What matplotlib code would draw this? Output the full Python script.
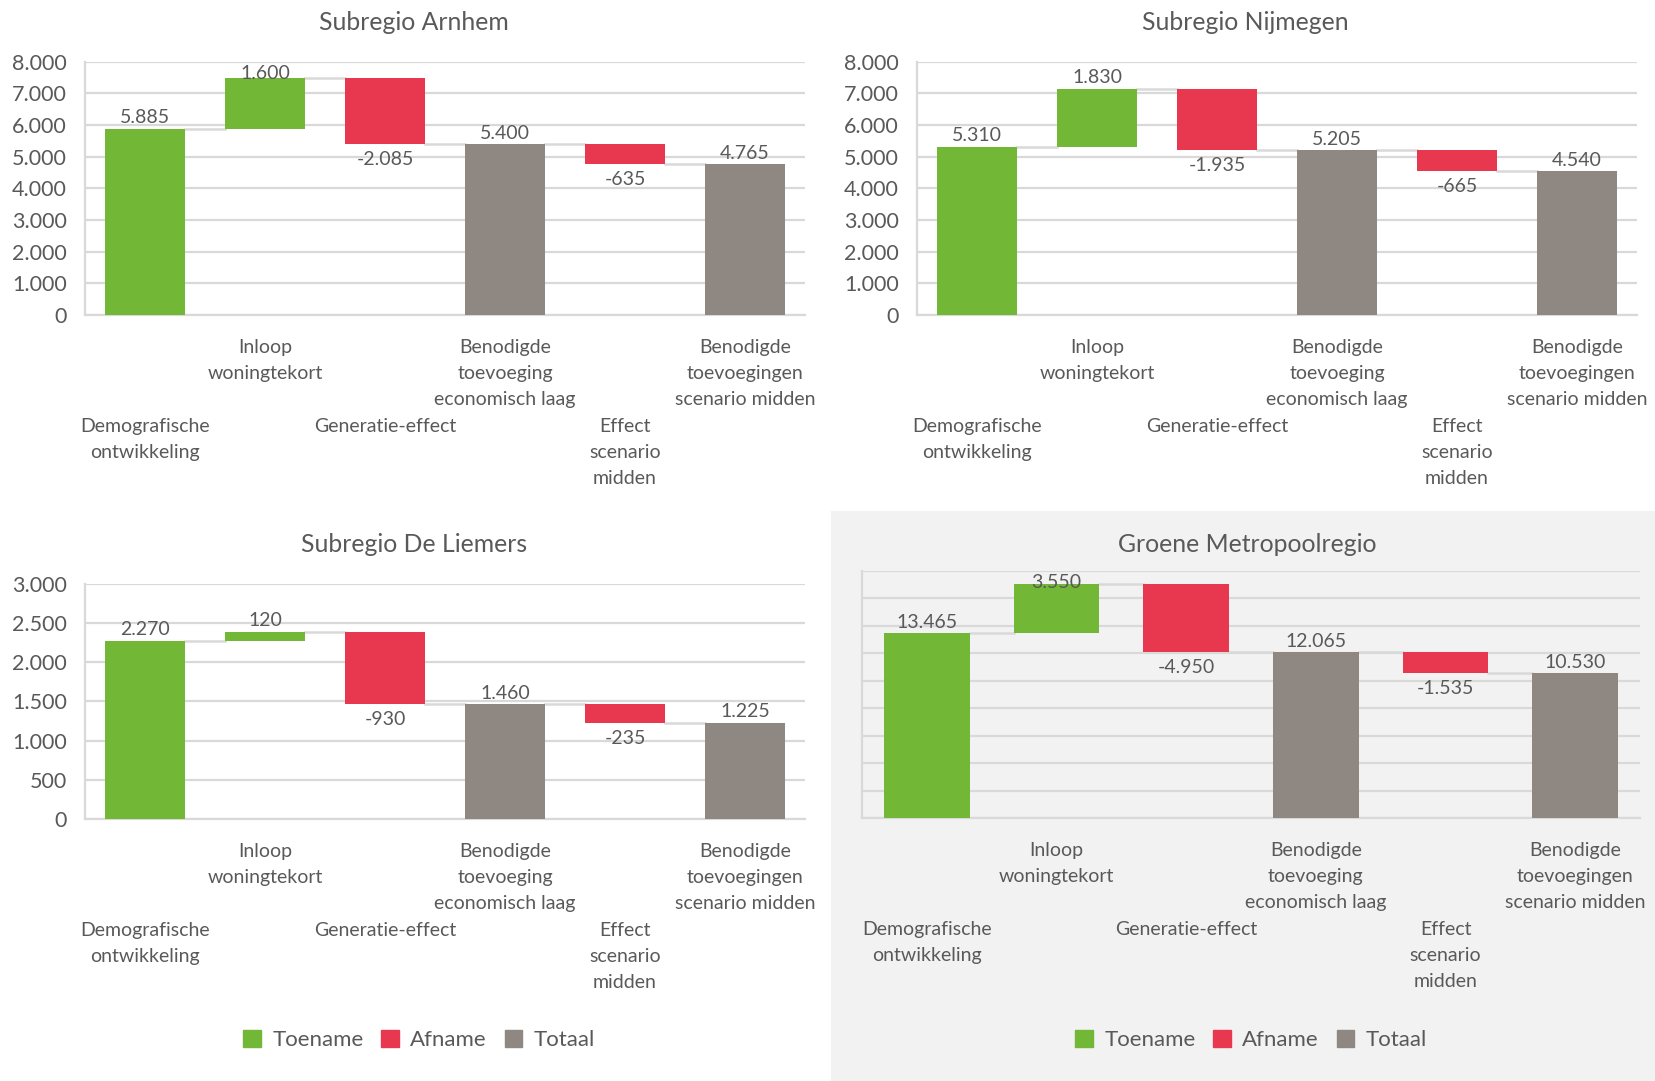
import matplotlib.pyplot as plt
from matplotlib.patches import Patch

plt.rcParams['font.family'] = ['Lato', 'DejaVu Sans']

# Categories (shared by all four panels)
categories = ['Demografische\nontwikkeling', 'Inloop\nwoningtekort', 'Generatie-effect',
              'Benodigde\ntoevoeging\neconomisch laag', 'Effect\nscenario\nmidden',
              'Benodigde\ntoevoegingen\nscenario midden']
is_total = [False, False, False, True, False, True]

# Values per region
arnhem = [5885, 1600, -2085, 5400, -635, 4765]
nijmegen = [5310, 1830, -1935, 5205, -665, 4540]
liemers = [2270, 120, -930, 1460, -235, 1225]
groene = [13465, 3550, -4950, 12065, -1535, 10530]

titles = ['Subregio Arnhem', 'Subregio Nijmegen', 'Subregio De Liemers', 'Groene Metropoolregio']
y_max = [8000, 8000, 3000, 18000]
y_step = [1000, 1000, 500, 2000]

GREEN = '#72B736'
RED = '#E8384F'
GREY = '#8F8782'
TEXT = '#595959'
GRID = '#D9D9D9'

W, H = 1655, 1081
fig = plt.figure(figsize=(W / 100, H / 100), dpi=100)

# grey background behind the last panel
fig.patches.append(plt.Rectangle((831 / W, 0), 1 - 831 / W, 1 - 511 / H,
                                 transform=fig.transFigure, facecolor='#F2F2F2',
                                 edgecolor='none', zorder=-5))

def rect(left, right, top, bottom):
    return [left / W, 1 - bottom / H, (right - left) / W, (bottom - top) / H]

rects = [rect(85, 805, 61.7, 315), rect(917, 1637, 61.7, 315),
         rect(85, 805, 583.7, 819), rect(862, 1640, 570.7, 818)]
title_pos = [(414, 22), (1245, 22), (414, 544), (1247, 544)]


def fmt(v):
    s = f'{abs(v):,}'.replace(',', '.')
    return '-' + s if v < 0 else s


def waterfall(ax, values, ymax, step, show_yticks, r):
    width = 0.66
    level = 0
    bottoms, heights, colors, levels = [], [], [], []
    for v, tot in zip(values, is_total):
        if tot:
            bottoms.append(0); heights.append(v); colors.append(GREY); level = v
        elif v >= 0:
            bottoms.append(level); heights.append(v); colors.append(GREEN); level += v
        else:
            bottoms.append(level + v); heights.append(-v); colors.append(RED); level += v
        levels.append(level)

    x = list(range(len(values)))
    ax.bar(x, heights, bottom=bottoms, width=width, color=colors, zorder=3)

    # connector lines
    for i in range(len(values) - 1):
        ax.plot([i + width / 2, i + 1 - width / 2], [levels[i], levels[i]],
                color=GRID, lw=1.8, zorder=2)

    # data labels
    d_per_px = ymax / (r[3] * H)
    for i, v in enumerate(values):
        if v >= 0:
            y = min(bottoms[i] + heights[i] + 11 * d_per_px, ymax - 12 * d_per_px)
        else:
            y = bottoms[i] - 15.5 * d_per_px
        ax.text(i, y, fmt(v), ha='center', va='center', fontsize=14, color=TEXT, zorder=4)

    ax.set_xlim(-0.5, len(values) - 0.5)
    ax.set_ylim(0, ymax)
    ticks = list(range(0, ymax + 1, step))
    ax.set_yticks(ticks)
    if show_yticks:
        ax.set_yticklabels([fmt(t) for t in ticks])
    else:
        ax.set_yticklabels([])
    ax.yaxis.grid(True, color=GRID, lw=1.6, zorder=0)
    ax.set_axisbelow(True)

    # staggered category labels (Excel style)
    ax.set_xticks(x)
    ax.set_xticklabels([])
    for i, c in enumerate(categories):
        off = -17.5 if i % 2 == 1 else -74.5
        ax.annotate(c, xy=(i, 0), xycoords=('data', 'axes fraction'),
                    xytext=(0, off), textcoords='offset points',
                    ha='center', va='top', fontsize=14, color=TEXT, linespacing=1.62)
    ax.tick_params(axis='x', length=0)
    ax.tick_params(axis='y', length=0, pad=13, labelsize=15.5, labelcolor=TEXT)

    for s in ['top', 'right']:
        ax.spines[s].set_visible(False)
    for s in ['left', 'bottom']:
        ax.spines[s].set_color(GRID)
        ax.spines[s].set_linewidth(1.6)
    ax.patch.set_alpha(0)


data = [arnhem, nijmegen, liemers, groene]
for k in range(4):
    ax = fig.add_axes(rects[k])
    waterfall(ax, data[k], y_max[k], y_step[k], k < 3, rects[k])
    fig.text(title_pos[k][0] / W, 1 - title_pos[k][1] / H, titles[k],
             ha='center', va='center', fontsize=17.8, color=TEXT)

handles = [Patch(color=GREEN, label='Toename'), Patch(color=RED, label='Afname'),
           Patch(color=GREY, label='Totaal')]
for cx in [419, 1251]:
    fig.legend(handles=handles, loc='center', bbox_to_anchor=(cx / W, 1 - 1040 / H),
               ncol=3, frameon=False, fontsize=16, labelcolor=TEXT,
               handlelength=0.8, handleheight=0.8, handletextpad=0.5,
               columnspacing=0.8)

fig.savefig('out.png', dpi=100)
